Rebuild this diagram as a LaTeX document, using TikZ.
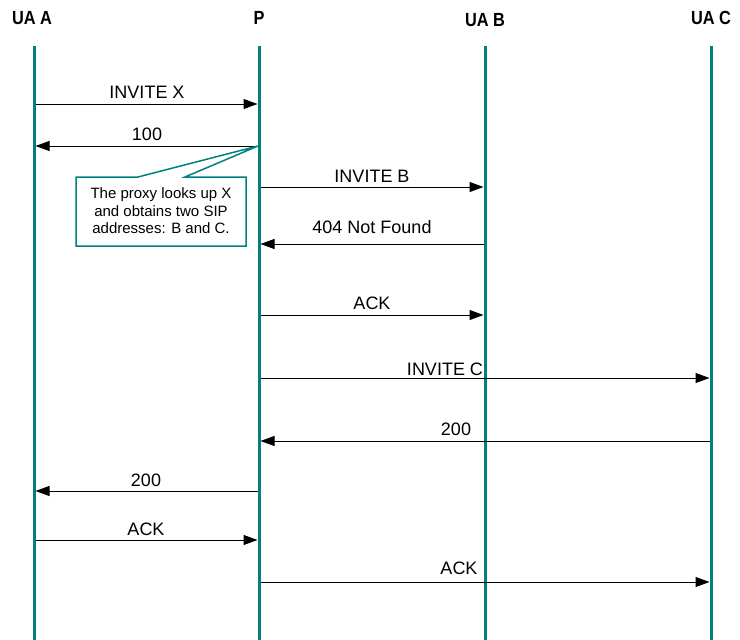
\documentclass[tikz,border=0pt]{standalone}
\usepackage{fontspec}
\setmainfont{Liberation Sans}
\newfontfamily\hdrfont[FakeStretch=0.86]{Liberation Sans}
\usetikzlibrary{arrows.meta}
\definecolor{lifeteal}{RGB}{0,128,128}
\begin{document}
\begin{tikzpicture}[x=1pt,y=-1pt,
  life/.style={draw=lifeteal, line width=3pt},
  msg/.style={draw=black, line width=1pt, shorten >=1.5pt, shorten <=1.5pt, -{Triangle[length=14pt 0,width=10pt 0]}},
  lbl/.style={anchor=base, inner sep=0pt, font=\fontsize{18}{21}\selectfont},
  hdr/.style={anchor=base, inner sep=0pt, font=\hdrfont\fontsize{19}{22}\selectfont\bfseries},
  notebox/.style={draw=lifeteal, line width=1.5pt, fill=white, line join=miter},
  notetext/.style={align=center, inner sep=0pt, font=\fontsize{15}{17.6}\selectfont}
]
\useasboundingbox (0,0) rectangle (740,640);
% headers
\node[hdr] (hA) at (32,24) {UA A};
\node[hdr] (hP) at (259,24) {P};
\node[hdr] (hB) at (485,26) {UA B};
\node[hdr] (hC) at (711,24) {UA C};
% lifelines
\coordinate (At) at (34,46);  \coordinate (Ab) at (34,640);
\coordinate (Pt) at (259,46); \coordinate (Pb) at (259,640);
\coordinate (Bt) at (485,46); \coordinate (Bb) at (485,640);
\coordinate (Ct) at (711,46); \coordinate (Cb) at (711,640);
\draw[life] (At) -- (Ab);
\draw[life] (Pt) -- (Pb);
\draw[life] (Bt) -- (Bb);
\draw[life] (Ct) -- (Cb);
% messages
\coordinate (m1a) at (34,104);  \coordinate (m1b) at (259,104);
\draw[msg] (m1a) -- (m1b);
\node[lbl] (l1) at (147,98) {INVITE X};

\coordinate (m2a) at (259,146); \coordinate (m2b) at (34,146);
\draw[msg] (m2a) -- (m2b);
\node[lbl] (l2) at (147,140) {100};

\coordinate (m3a) at (259,187); \coordinate (m3b) at (485,187);
\draw[msg] (m3a) -- (m3b);
\node[lbl] (l3) at (372,182) {INVITE B};

\coordinate (m4a) at (485,244); \coordinate (m4b) at (259,244);
\draw[msg] (m4a) -- (m4b);
\node[lbl] (l4) at (372,233) {404 Not Found};

\coordinate (m5a) at (259,315); \coordinate (m5b) at (485,315);
\draw[msg] (m5a) -- (m5b);
\node[lbl] (l5) at (372,309) {ACK};

\coordinate (m6a) at (259,378); \coordinate (m6b) at (711,378);
\draw[msg] (m6a) -- (m6b);
\node[lbl] (l6) at (445,375) {INVITE C};

\coordinate (m7a) at (711,441); \coordinate (m7b) at (259,441);
\draw[msg] (m7a) -- (m7b);
\node[lbl] (l7) at (456,435) {200};

\coordinate (m8a) at (259,491); \coordinate (m8b) at (34,491);
\draw[msg] (m8a) -- (m8b);
\node[lbl] (l8) at (146,486) {200};

\coordinate (m9a) at (34,540); \coordinate (m9b) at (259,540);
\draw[msg] (m9a) -- (m9b);
\node[lbl] (l9) at (146,535) {ACK};

\coordinate (m10a) at (259,582); \coordinate (m10b) at (711,582);
\draw[msg] (m10a) -- (m10b);
\node[lbl] (l10) at (459,574) {ACK};

% callout
\coordinate (tip) at (258,146);
\draw[notebox] (76,177) -- (138,177) -- (tip) -- (185,177) -- (246,177) -- (246,246) -- (76,246) -- cycle;
\node[notetext] (note) at (161,211) {The proxy looks up X\\and obtains two SIP\\addresses: B and C.};
\end{tikzpicture}
\end{document}
